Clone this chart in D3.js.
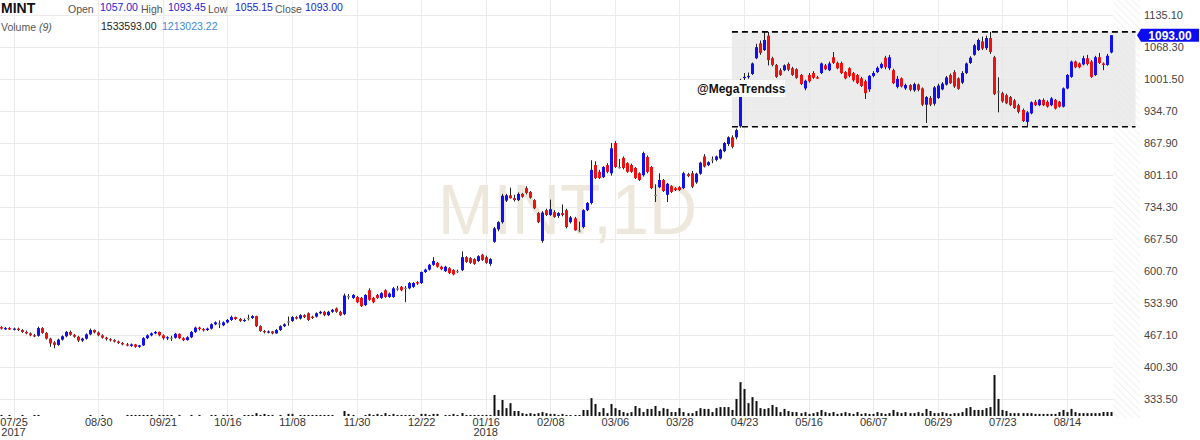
<!DOCTYPE html>
<html><head><meta charset="utf-8">
<script src="https://cdn.jsdelivr.net/npm/d3@7"></script>
<style>
body{margin:0;background:#fff;}
svg{display:block;font-family:"Liberation Sans",Arial,sans-serif;}
</style></head><body>
<svg id="c" width="1200" height="440"></svg>
<script>
// ---------- DATA ----------
const openP=[484,481,482,479,481,478,474,471,467,466,482,472,460,452,447,458,465,474,468,464,
456,460,469,478,473,467,462,459,457,454,451,448,445,448,443,446,461,467,471,474,
467,461,462,462,470,461,457,463,474,483,480,478,481,490,492,488,494,499,505,501,
497,503,503,507,486,476,474,475,471,478,486,496,497,505,502,509,513,506,506,513,
516,509,516,523,516,511,549,545,547,545,530,561,545,551,545,561,547,547,565,568,
566,565,568,578,576,599,604,614,618,610,601,607,603,601,603,630,628,626,622,635,
630,616,662,688,703,748,759,753,749,762,774,766,749,722,664,728,718,724,716,722,
728,703,711,686,693,728,743,822,808,797,822,805,868,818,837,826,822,816,805,801,
839,818,760,776,791,760,778,774,776,774,803,805,786,804,840,822,834,833,836,851,
866,880,880,903,1004,1006,1012,1045,1076,1062,1092,1045,1031,1020,1020,1033,1024,1022,1010,982,
1010,1014,1005,1014,1030,1020,1047,1035,1035,1016,1024,1014,1010,1003,997,980,1008,1016,1025,1046,
1024,1020,985,1003,982,989,978,990,982,948,962,950,962,980,990,1010,1016,1003,994,1014,
1035,1052,1062,1080,1066,1087,1047,976,972,968,964,957,947,937,912,930,954,947,958,954,
947,958,954,944,982,1006,1038,1034,1032,1045,1038,1010,1047,1034,1031,1057];
const highP=[486,484,484,483,483,480,477,473,470,485,484,474,462,455,460,467,476,477,470,466,
462,471,481,479,475,469,464,461,459,456,453,451,450,449,447,463,469,473,476,475,
469,465,466,472,471,463,465,476,485,485,482,483,492,496,498,496,501,508,506,503,
502,510,509,508,488,478,477,476,480,488,492,506,507,507,511,511,515,508,515,518,
518,518,522,525,518,554,553,553,549,547,553,565,547,553,557,563,556,568,570,570,
570,578,578,580,600,606,616,630,620,612,612,609,605,604,642,632,630,628,634,637,
633,628,693,705,762,762,775,760,765,764,778,768,751,724,726,731,750,728,724,740,
731,716,714,704,730,745,832,830,812,820,826,868,872,835,840,828,825,818,807,850,
842,820,782,805,793,785,780,776,778,808,806,810,806,829,845,830,840,842,856,870,
882,884,898,1002,1014,1015,1036,1075,1082,1100,1100,1048,1033,1024,1032,1036,1027,1024,1012,1000,
1014,1018,1008,1036,1033,1038,1058,1038,1038,1018,1026,1016,1012,1006,1000,1010,1018,1028,1036,1050,
1052,1023,1008,1005,992,991,994,992,984,966,966,987,992,995,1008,1013,1020,1005,1018,1036,
1049,1075,1086,1090,1092,1100,1050,1005,975,971,966,960,950,940,935,955,958,960,961,957,
964,960,956,984,1012,1040,1040,1036,1050,1052,1041,1050,1056,1036,1054,1093.45];
const lowP=[479,478,478,477,476,472,469,465,463,464,470,458,443,440,445,456,463,466,462,453,
453,458,467,471,465,460,456,454,452,449,446,444,443,441,441,445,459,465,469,465,
458,457,455,460,459,455,456,461,472,477,475,476,479,488,482,486,492,497,499,495,
495,498,501,484,474,471,471,469,470,476,484,487,495,500,500,503,497,501,504,511,
507,507,514,514,507,509,542,543,534,526,528,539,534,543,543,545,545,545,560,559,
536,563,566,572,574,597,602,612,608,603,599,595,592,597,601,618,616,614,620,622,
616,612,660,684,700,745,752,746,747,754,761,752,730,701,660,716,716,712,712,715,
690,700,685,682,690,726,740,793,793,795,805,800,816,815,813,806,806,793,789,798,
805,772,745,774,766,745,764,768,768,772,797,774,783,802,817,820,826,830,834,849,
862,857,876,900,998,1002,1010,1043,1052,1060,1030,1028,1004,1008,1018,1018,1008,1002,989,978,
994,1002,1002,1012,1020,1018,1033,1022,1012,1001,1005,996,991,985,960,975,1005,1014,1023,1022,
1020,991,982,984,979,976,975,976,945,910,945,946,960,978,988,991,983,979,991,1012,
1033,1050,1060,1062,1062,1054,968,932,952,949,945,939,930,912,903,928,945,945,945,942,
945,938,942,942,980,1004,1024,1024,1030,1030,1004,1008,1033,1020,1029,1055.15];
const closeP=[481,482,479,481,478,474,471,467,466,482,472,460,450,447,458,465,474,468,464,456,
460,469,478,473,467,462,459,457,454,451,448,446,448,443,446,461,467,471,474,467,
461,463,462,470,461,457,463,474,483,480,478,481,490,494,492,494,499,505,501,497,
499,503,507,486,476,474,475,471,478,486,490,496,505,502,509,505,499,503,513,516,
509,516,520,516,509,550,549,551,536,528,551,541,536,545,555,547,554,565,565,561,
566,576,576,575,599,604,614,622,610,605,610,597,594,601,630,620,618,616,632,624,
618,626,690,703,758,759,753,749,762,756,764,754,732,703,723,718,730,714,722,718,
693,713,686,686,728,743,812,795,795,818,808,857,818,818,816,808,808,795,791,847,
808,774,760,791,768,783,766,770,770,805,799,777,804,827,819,828,834,840,854,868,
880,860,895,998,1006,1008,1034,1068,1056,1083,1041,1031,1006,1010,1030,1021,1010,1004,991,998,
997,1004,1003,1034,1022,1034,1035,1024,1014,1003,1008,999,993,987,972,1008,1014,1025,1033,1026,
1047,993,1002,986,989,979,991,979,948,964,948,984,988,992,1005,993,986,981,1014,1034,
1046,1072,1083,1065,1087,1058,970,976,955,951,947,941,933,914,932,953,947,958,947,944,
961,940,944,982,1010,1038,1026,1026,1045,1033,1006,1047,1035,1031,1050,1093];
const volumeM=[0.4,0,0.4,0,0,0.4,0,0,0.4,0.4,
0,0,0,0,0,0,0,0,0,0,
0,0,0.4,0,0,0.4,0,0,0,0,
0,0.4,0.4,0.4,0.4,0.4,0.4,0.4,0,0.4,
0.4,0.4,0.4,0,0.4,0,0,0.4,0,0.4,
0,0,0.4,0.4,0,0.4,0.4,0.4,0,0,
0.4,0.4,0.4,1.1,0.4,0.8,0.4,0.4,0,0.4,
0,0.8,0.8,0,0.4,0.4,0.4,0.4,0.4,0.4,
0.4,0.4,0.4,0,0,1.9,0.8,0.4,0,0,
0.4,0.8,0.4,0.8,0.4,1.1,0.4,0.8,0.4,0.4,
0.4,0.4,0.4,0,0.8,0.8,0.4,0.8,0.8,0,
0.4,0.4,0.8,0.4,1.1,0.4,0.4,0.4,0.4,0.4,
0.4,0.4,8.0,2.3,6.1,3.0,4.9,1.9,1.9,1.1,
0.8,1.1,0.8,1.1,1.5,1.1,0.8,0.8,0.4,0.8,
0.4,0.4,0.4,0.4,2.3,2.3,6.8,4.6,1.5,3.0,
1.1,4.6,3.0,2.3,1.5,1.1,1.5,3.8,3.0,1.5,
2.7,2.7,3.8,1.9,3.0,2.7,1.5,1.5,3.0,1.5,
1.1,1.1,1.9,3.0,2.7,2.7,1.5,3.0,3.4,3.4,
3.4,2.3,6.5,12.9,10.3,4.9,7.2,5.7,3.0,2.7,
3.0,4.2,3.4,1.5,2.7,1.9,1.5,1.5,1.1,1.5,
0.8,1.1,1.5,2.3,1.5,1.1,1.5,0.8,1.1,1.5,
1.1,0.8,1.5,0.8,1.1,0.8,0.8,1.5,1.1,0.8,
1.1,2.3,1.5,1.1,1.5,1.1,1.1,1.5,1.1,2.7,
1.9,1.1,1.1,1.5,1.1,0.8,1.1,1.1,1.5,3.0,
3.4,2.3,2.3,2.3,3.0,3.4,15.6,6.5,2.3,1.9,
1.1,1.1,1.1,1.1,1.1,1.1,0.8,0.8,0.8,0.8,
0.8,0.8,1.5,2.3,1.5,2.7,1.5,1.1,1.1,1.1,
1.1,1.1,1.1,1.5,1.5,1.5];
const priceTicks=[333.5,400.3,467.1,533.9,600.7,667.5,734.3,801.1,867.9,934.7,1001.5,1068.3,1135.1];
const dateTickIdx=[3,24,40,56,72,88,104,120,136,152,168,184,200,216,232,248,264];
const dateTickLabels=["07/25","08/30","09/21","10/16","11/08","11/30","12/22","01/16","02/08","03/06","03/28","04/23","05/16","06/07","06/29","07/23","08/14"];
const yearIdx=[3,120];
const yearLabels=["2017","2018"];
const rangeHigh=1100, rangeLow=902, rangeStartIdx=181, rangeEndIdx=281;
const header={sym:"MINT",open:"1057.00",high:"1093.45",low:"1055.15",close:"1093.00",vol:"1533593.00",volAvg:"1213023.22"};
const lastPrice=1093.00;

// ---------- SCALES ----------
const svg=d3.select("#c");
const x=d3.scaleLinear().domain([0,275]).range([1.4,1111.3]);
const y=d3.scaleLinear().domain([333.5,1135.1]).range([399.3,15]);
const yv=d3.scaleLinear().domain([0,16]).range([416,374]);
const n=closeP.length;
const bars=d3.range(n).map(i=>({i,o:openP[i],h:highP[i],l:lowP[i],c:closeP[i],v:volumeM[i]}));

// hatch pattern
const defs=svg.append("defs");
const pat=defs.append("pattern").attr("id","hatch").attr("patternUnits","userSpaceOnUse")
  .attr("width",5).attr("height",5).attr("patternTransform","rotate(-45)");
pat.append("line").attr("x1",0).attr("y1",0).attr("x2",0).attr("y2",5).attr("stroke","#ececec").attr("stroke-width",1.5);

svg.append("rect").attr("x",x(275)+2).attr("y",0).attr("width",1140-(x(275)+2)).attr("height",418).attr("fill","url(#hatch)");

// gridlines
const gx=svg.append("g");
gx.selectAll("line.h").data(priceTicks).join("line")
  .attr("x1",0).attr("x2",x(275)+2).attr("y1",d=>Math.round(y(d))+0.5).attr("y2",d=>Math.round(y(d))+0.5)
  .attr("stroke","#ebebeb");
gx.selectAll("line.v").data(dateTickIdx).join("line")
  .attr("x1",d=>Math.round(x(d))+0.5).attr("x2",d=>Math.round(x(d))+0.5).attr("y1",0).attr("y2",419)
  .attr("stroke","#ebebeb");

// range box
svg.append("rect").attr("x",x(rangeStartIdx)).attr("y",y(rangeHigh))
  .attr("width",x(rangeEndIdx)-x(rangeStartIdx)).attr("height",y(rangeLow)-y(rangeHigh))
  .attr("fill","#e6e6e6").attr("opacity",0.75);

// watermark
svg.append("text").attr("x",438).attr("y",234).text("MINT,1D")
  .attr("font-size",70).attr("fill","#eee8dc").attr("textLength",259).attr("lengthAdjust","spacingAndGlyphs");

// volume
svg.append("g").selectAll("rect").data(bars.filter(d=>d.v>0)).join("rect")
  .attr("x",d=>Math.round(x(d.i))-0.5).attr("width",2)
  .attr("y",d=>yv(d.v)).attr("height",d=>yv(0)-yv(d.v)).attr("fill","#111");

// candles
const col=d=>d.c>d.o?"#1010f0":(d.c<d.o?"#ee1111":"#8c8c8c");
const cg=svg.append("g");
cg.selectAll("line").data(bars).join("line")
  .attr("x1",d=>Math.round(x(d.i))+0.5).attr("x2",d=>Math.round(x(d.i))+0.5)
  .attr("y1",d=>y(d.h)).attr("y2",d=>y(d.l)).attr("stroke","#222").attr("stroke-width",1);
cg.selectAll("rect").data(bars).join("rect")
  .attr("x",d=>Math.round(x(d.i))-1).attr("width",3)
  .attr("y",d=>y(Math.max(d.o,d.c))).attr("height",d=>Math.max(1.2,Math.abs(y(d.o)-y(d.c))))
  .attr("fill",col);

// dashed range lines
[rangeHigh,rangeLow].forEach(p=>{
  svg.append("line").attr("x1",x(rangeStartIdx)).attr("x2",x(rangeEndIdx))
    .attr("y1",y(p)).attr("y2",y(p)).attr("stroke","#000").attr("stroke-width",1.6).attr("stroke-dasharray","6,4");
});

// annotation
svg.append("rect").attr("x",695).attr("y",80).attr("width",90).attr("height",17).attr("fill","#fff");
svg.append("text").attr("x",697).attr("y",93).text("@MegaTrendss").attr("font-weight","bold").attr("font-size",12).attr("fill","#111");

// right axis
const ay=svg.append("g").attr("transform","translate(1140,0)")
  .call(d3.axisRight(y).tickValues(priceTicks).tickSize(0).tickPadding(4).tickFormat(d3.format(".2f")));
ay.select(".domain").remove();
ay.selectAll("text").attr("font-size",11).attr("fill","#444").attr("font-family","Liberation Sans,Arial,sans-serif");

// price tag
const ty=y(lastPrice);
svg.append("path").attr("d",`M1137,${ty} L1141,${ty-6.5} L1199,${ty-6.5} L1199,${ty+6.5} L1141,${ty+6.5} Z`).attr("fill","#0c0cee");
svg.append("text").attr("x",1170).attr("y",ty+4.5).attr("text-anchor","middle").text(lastPrice.toFixed(2))
  .attr("fill","#fff").attr("font-weight","bold").attr("font-size",12);

// bottom axis
const ax=svg.append("g").attr("transform","translate(0,415)")
  .call(d3.axisBottom(x).tickValues(dateTickIdx).tickSize(0).tickPadding(3).tickFormat((d,i)=>dateTickLabels[i]));
ax.select(".domain").remove();
ax.selectAll("text").attr("font-size",11).attr("fill","#333").attr("font-family","Liberation Sans,Arial,sans-serif");
svg.append("g").selectAll("text").data(yearIdx).join("text")
  .attr("x",d=>x(d)).attr("y",436).attr("text-anchor","middle").text((d,i)=>yearLabels[i])
  .attr("font-size",11).attr("fill","#333");

// header
const hd=svg.append("g").attr("font-size",10.5);
hd.append("text").attr("x",1).attr("y",13).text(header.sym).attr("font-weight","bold").attr("font-size",14).attr("fill","#111");
const parts=[["Open",68,"#555",13],[header.open,100,"#2222cc",11],["High",141,"#555",13],[header.high,168,"#2222cc",11],
  ["Low",208,"#555",13],[header.low,235,"#2222cc",11],["Close",275,"#555",13],[header.close,305,"#2222cc",11]];
parts.forEach(p=>hd.append("text").attr("x",p[1]).attr("y",p[3]).text(p[0]).attr("fill",p[2]));
const vt=hd.append("text").attr("x",1).attr("y",31).attr("fill","#555");
vt.append("tspan").text("Volume ");
vt.append("tspan").text("(9)").attr("font-style","italic");
hd.append("text").attr("x",101).attr("y",30).text(header.vol).attr("fill","#222");
hd.append("text").attr("x",162).attr("y",30).text(header.volAvg).attr("fill","#3d8ad8");
</script></body></html>
